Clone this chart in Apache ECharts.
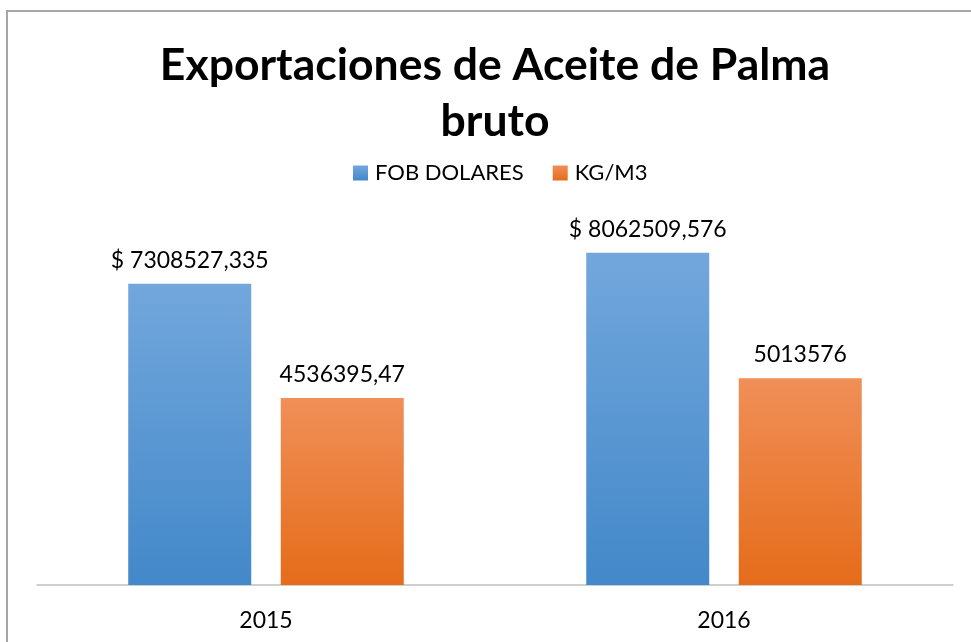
<!DOCTYPE html>
<html>
<head>
<meta charset="utf-8">
<script src="https://cdn.jsdelivr.net/npm/echarts@6/dist/echarts.min.js"></script>
<style>
    html, body { margin: 0; padding: 0; background: #fff; }
    #myChart { width: 971px; height: 642px; }
</style>
</head>
<body>
<div id="myChart"></div>
<script>
// datos del grafico
var years = ['2015', '2016'];
var fobDolares = [7308527.335, 8062509.576];
var kgM3 = [4536395.47, 5013576];
var seriesNames = ['FOB DOLARES', 'KG/M3'];

var font = 'Lato';

// numero con coma decimal
function fmt(v) {
    return String(v).replace('.', ',');
}

function grad(top, bottom) {
    return new echarts.graphic.LinearGradient(0, 0, 0, 1, [
        { offset: 0, color: top },
        { offset: 1, color: bottom }
    ]);
}

var myChart = echarts.init(document.getElementById('myChart'));
myChart.setOption({
    animation: false,
    title: {
        text: 'Exportaciones de Aceite de Palma\nbruto',
        left: 490,
        textAlign: 'center',
        top: 33,
        textStyle: {
            fontFamily: font,
            fontWeight: 'bold',
            fontSize: 44.5,
            lineHeight: 56,
            color: '#000'
        }
    },
    legend: {
        data: seriesNames,
        top: 157,
        left: 348,
        itemWidth: 15,
        itemHeight: 15,
        itemGap: 29,
        icon: 'rect',
        textStyle: { fontFamily: font, fontSize: 22, color: '#000', padding: [0, 0, 0, 2] }
    },
    graphic: [{
        type: 'rect',
        shape: { x: 7, y: 11, width: 1000, height: 700 },
        style: { fill: 'none', stroke: '#a6a6a6', lineWidth: 2 },
        silent: true
    }],
    grid: {
        left: 37,
        right: 18,
        top: 214,
        bottom: 57
    },
    xAxis: {
        type: 'category',
        data: years,
        axisLine: { lineStyle: { color: '#bfbfbf', width: 1.5 } },
        axisTick: { show: false },
        axisLabel: { fontFamily: font, fontSize: 23, color: '#000', margin: 24 }
    },
    yAxis: {
        type: 'value',
        min: 0,
        max: 9000000,
        show: false,
        splitLine: { show: false }
    },
    series: [
        {
            name: seriesNames[0],
            type: 'bar',
            data: fobDolares,
            barWidth: 123,
            barGap: '24%',
            itemStyle: { color: grad('#72a7dc', '#4388c9') },
            label: {
                show: true,
                position: 'top',
                distance: 12,
                fontFamily: font,
                fontSize: 23,
                color: '#000',
                formatter: function (p) { return '$ ' + fmt(p.value); }
            }
        },
        {
            name: seriesNames[1],
            type: 'bar',
            data: kgM3,
            barWidth: 123,
            itemStyle: { color: grad('#f08f58', '#e56c1a') },
            label: {
                show: true,
                position: 'top',
                distance: 12,
                fontFamily: font,
                fontSize: 23,
                color: '#000',
                formatter: function (p) { return fmt(p.value); }
            }
        }
    ]
});
</script>
</body>
</html>
